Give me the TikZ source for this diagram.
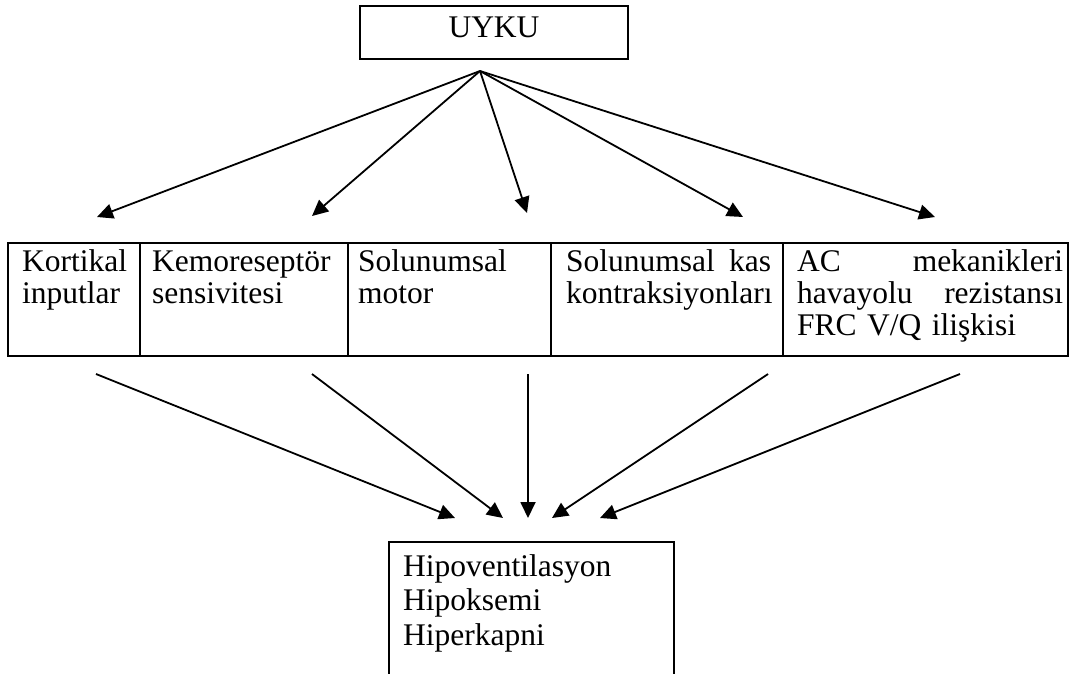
\documentclass[tikz,border=0pt]{standalone}
\usepackage{fontspec}
\setmainfont{Liberation Serif}
\usetikzlibrary{arrows.meta,positioning}

\begin{document}
\begin{tikzpicture}[x=1pt, y=-1pt,
  txt/.style={font=\fontsize{31.5}{34.5}\selectfont, inner sep=0pt, align=left},
  hucre/.style={txt, font=\fontsize{31.5}{32}\selectfont, anchor=base west},
  ok/.style={-{Triangle[length=16pt,width=15pt]}, line width=1.8pt}]
  \useasboundingbox (0,0) rectangle (1070,673);
  % Uyku
  \node[txt, draw, line width=2pt, align=center, text width=268, minimum height=53, text height=21, text depth=12] (uyku) at (494,32.5) {UYKU\hspace*{19pt}};
  \coordinate (apex) at (480,71);
  % Tablo
  \draw[line width=2pt] (8,243) rectangle (1068,356);
  \foreach \x in {140,348,551,783}
    \draw[line width=2pt] (\x,243) -- (\x,356);
  \node[hucre, text width=115] (kortikal) at (22,271) {Kortikal\\inputlar};
  \node[hucre, text width=192] (kemo) at (152,271) {Kemoreseptör\\sensivitesi};
  \node[hucre, text width=190] (motor) at (358,271) {Solunumsal\\motor};
  \node[hucre, text width=212] (kas) at (566,271) {\makebox[205pt][l]{Solunumsal\hfill kas}\\kontraksiyonları};
  \node[hucre, text width=268] (mekanik) at (797,271) {\makebox[266pt][l]{AC\hfill mekanikleri}\\\makebox[266pt][l]{havayolu\hfill rezistansı}\\FRC V/Q ilişkisi};
  % Sonuc
  \draw[line width=2pt] (389,690) -- (389,542) -- (674,542) -- (674,690);
  \node[txt, text width=265, anchor=base west] (sonuc) at (403,576) {Hipoventilasyon\\Hipoksemi\\Hiperkapni};
  % Ok uclari
  \coordinate (inKort) at (97,217);
  \coordinate (inKemo) at (312,216);
  \coordinate (inMotor) at (527,213);
  \coordinate (inKas) at (743,217);
  \coordinate (inMek) at (935,217);
  \coordinate (outKort) at (96,374);
  \coordinate (outKemo) at (312,374);
  \coordinate (outMotor) at (528,374);
  \coordinate (outKas) at (768,374);
  \coordinate (outMek) at (960,374);
  \coordinate (s1) at (455,518);
  \coordinate (s2) at (503,518);
  \coordinate (s3) at (528,518);
  \coordinate (s4) at (552,518);
  \coordinate (s5) at (600,518);
  % Oklar
  \draw[ok] (apex) -- (inKort);
  \draw[ok] (apex) -- (inKemo);
  \draw[ok] (apex) -- (inMotor);
  \draw[ok] (apex) -- (inKas);
  \draw[ok] (apex) -- (inMek);
  \draw[ok] (outKort) -- (s1);
  \draw[ok] (outKemo) -- (s2);
  \draw[ok] (outMotor) -- (s3);
  \draw[ok] (outKas) -- (s4);
  \draw[ok] (outMek) -- (s5);
\end{tikzpicture}
\end{document}
